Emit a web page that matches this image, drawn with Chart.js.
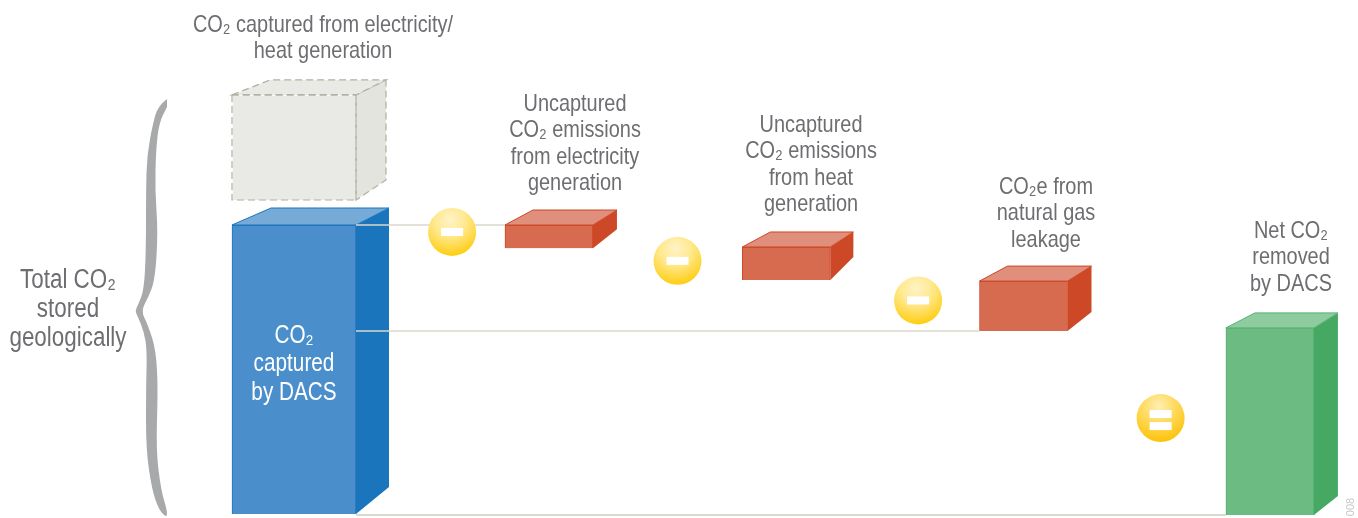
<!DOCTYPE html>
<html>
<head>
<meta charset="utf-8">
<title>Net CO₂ removed by DACS</title>
<script src="https://cdn.jsdelivr.net/npm/chart.js@4"></script>
<style>
  html, body { margin: 0; padding: 0; background: #fff; }
  canvas { display: block; }
</style>
</head>
<body>
<canvas id="dacsChart" width="1358" height="518"></canvas>
<script>
// Values as % of CO2 captured by DACS, each bar is [bottom, top]
const capturedDacs = [0, 100];
const capturedPowerHeat = [108.65, 145];
const lossElectricity = [92, 100];
const lossHeat = [81, 92.4];
const lossGasLeak = [63.3, 80.6];
const netRemoved = [-0.3, 64.4];

// Slot of each step along the horizontal axis
const slotDacs = 0;
const slotElectricity = 1.045;
const slotHeat = 2.018;
const slotLeak = 2.99;
const slotNet = 4;

// Operator badges between steps: [slot, value]
const minusBadges = [[0.648, 97.6], [1.572, 87.6], [2.558, 73.9]];
const equalBadges = [[3.552, 33.2]];

// Depth of the box drawn behind each bar
const boxDepth = {
  gray: { dx: 30, topUp: 15, baseUp: 20, leftDx: 38 },
  blue: { dx: 33, topUp: 17, baseUp: 27, leftDx: 39 },
  red1: { dx: 24, topUp: 15, baseUp: 19, leftDx: 28 },
  red2: { dx: 23, topUp: 15, baseUp: 23, leftDx: 28 },
  red3: { dx: 24, topUp: 15, baseUp: 19, leftDx: 28 },
  green: { dx: 24, topUp: 15, baseUp: 19, leftDx: 29 },
};

const palette = {
  gray: { front: "#e9eae5", side: "#e3e4dd", top: "#e9eae5", edge: "#b0b0a2" },
  blue: { front: "#4a8fcb", side: "#1b75bc", top: "#76abd8", edge: "#1b75bc" },
  red: { front: "#d76b50", side: "#cc4826", top: "#e08f7c", edge: "#cc4826" },
  green: { front: "#6bbb83", side: "#45a964", top: "#8ecb9f", edge: "#55b073" },
};

const TEXT_GRAY = "#6d6e71";
// no narrow face is installed, so lines get squeezed horizontally
const TEXT_SQUEEZE = 0.83;
const labels = [
  { x: 323, y: 25, size: 24, lines: ["CO₂ captured from electricity/"] },
  { x: 323, y: 51, size: 24, lines: ["heat generation"] },
  { x: 575, y: 104, size: 24, lines: ["Uncaptured", "CO₂ emissions", "from electricity", "generation"] },
  { x: 811, y: 125, size: 24, lines: ["Uncaptured", "CO₂ emissions", "from heat", "generation"] },
  { x: 1046, y: 187, size: 24, lines: ["CO₂e from", "natural gas", "leakage"] },
  { x: 1291, y: 231, size: 24, lines: ["Net CO₂", "removed", "by DACS"] },
  { x: 68, y: 281, size: 27, step: 29, lines: ["Total CO₂", "stored", "geologically"] },
  { x: 294, y: 336, size: 25, step: 28.5, color: "#ffffff", lines: ["CO₂", "captured", "by DACS"] },
];

// Outline of the curly brace, left edge going down then right edge coming back up
const braceOutline = [
  [167, 99], [158, 106], [153, 123], [147, 155], [146, 190], [146, 250], [144, 290], [138, 305], [135, 311],
  [138, 317], [144, 332], [147, 350], [146, 390], [146, 450], [152, 490], [159, 510], [167, 518],
  [167, 510], [161, 490], [156, 450], [158, 390], [156, 350], [148, 325], [141, 311],
  [148, 298], [155, 280], [158, 232], [155, 190], [156, 150], [159, 123], [167, 107],
];

function drawBox(ctx, el, depth, colors, dashed) {
  const left = el.x - el.width / 2;
  const right = el.x + el.width / 2;
  const top = el.y;
  const bottom = el.base;
  ctx.save();
  ctx.lineWidth = 1;
  ctx.strokeStyle = colors.edge;
  if (dashed) {
    ctx.setLineDash([7, 4]);
    ctx.lineWidth = 1.2;
  }

  // side face
  ctx.beginPath();
  ctx.moveTo(right, top);
  ctx.lineTo(right + depth.dx, top - depth.topUp);
  ctx.lineTo(right + depth.dx, bottom - depth.baseUp);
  ctx.lineTo(right, bottom);
  ctx.closePath();
  ctx.fillStyle = colors.side;
  ctx.fill();
  if (dashed) ctx.stroke();

  // top face
  ctx.beginPath();
  ctx.moveTo(left, top);
  ctx.lineTo(left + depth.leftDx, top - depth.topUp);
  ctx.lineTo(right + depth.dx, top - depth.topUp);
  ctx.lineTo(right, top);
  ctx.closePath();
  ctx.fillStyle = colors.top;
  ctx.fill();
  ctx.stroke();

  if (dashed) {
    ctx.strokeRect(left, top, el.width, bottom - top);
  }
  ctx.restore();
}

function drawBadge(ctx, cx, cy, bars) {
  const r = 24;
  ctx.save();
  const grad = ctx.createRadialGradient(cx - 2, cy - 12, 1, cx - 2, cy - 12, 38);
  if (bars === 1) {
    grad.addColorStop(0, "#fff2c4");
    grad.addColorStop(0.4, "#ffe98f");
    grad.addColorStop(0.75, "#ffd740");
    grad.addColorStop(1, "#ffca00");
  } else {
    grad.addColorStop(0, "#ffeeb0");
    grad.addColorStop(0.45, "#ffd95a");
    grad.addColorStop(1, "#fcc000");
  }
  ctx.fillStyle = grad;
  ctx.beginPath();
  ctx.arc(cx, cy, r, 0, Math.PI * 2);
  ctx.fill();
  ctx.fillStyle = "#ffffff";
  if (bars === 1) {
    ctx.fillRect(cx - 11, cy - 4, 22, 8);
  } else {
    ctx.fillRect(cx - 11, cy - 8, 22, 8);
    ctx.fillRect(cx - 11, cy + 4, 22, 8);
  }
  ctx.restore();
}

function drawBrace(ctx) {
  const pts = braceOutline;
  ctx.save();
  ctx.fillStyle = "#a7a9aa";
  ctx.beginPath();
  ctx.moveTo(pts[0][0], pts[0][1]);
  for (let i = 1; i < pts.length - 1; i++) {
    const mx = (pts[i][0] + pts[i + 1][0]) / 2;
    const my = (pts[i][1] + pts[i + 1][1]) / 2;
    ctx.quadraticCurveTo(pts[i][0], pts[i][1], mx, my);
  }
  ctx.lineTo(pts[pts.length - 1][0], pts[pts.length - 1][1]);
  ctx.closePath();
  ctx.fill();
  ctx.restore();
}

const infographicPlugin = {
  id: "infographic",
  afterDatasetsDraw(chart) {
    const ctx = chart.ctx;
    const xs = chart.scales.x;
    const ys = chart.scales.y;
    const wide = chart.getDatasetMeta(0).data;
    const narrow = chart.getDatasetMeta(1).data;

    drawBox(ctx, wide[1], boxDepth.gray, palette.gray, true);
    drawBox(ctx, wide[0], boxDepth.blue, palette.blue, false);
    drawBox(ctx, narrow[0], boxDepth.red1, palette.red, false);
    drawBox(ctx, narrow[1], boxDepth.red2, palette.red, false);
    drawBox(ctx, narrow[2], boxDepth.red3, palette.red, false);
    drawBox(ctx, narrow[3], boxDepth.green, palette.green, false);

    // connector lines from the blue bar to the steps
    const blueRight = wide[0].x + wide[0].width / 2;
    const connectors = [
      [ys.getPixelForValue(capturedDacs[1]), narrow[0].x - narrow[0].width / 2, 1.5],
      [ys.getPixelForValue(lossGasLeak[0]), narrow[2].x - narrow[2].width / 2, 1.5],
      [ys.getPixelForValue(netRemoved[0]), narrow[3].x - narrow[3].width / 2, 2],
    ];
    ctx.save();
    ctx.strokeStyle = "#d9d9cd";
    connectors.forEach(([y, endX, width]) => {
      ctx.lineWidth = width;
      ctx.beginPath();
      ctx.moveTo(blueRight, y);
      ctx.lineTo(endX, y);
      ctx.stroke();
    });
    ctx.restore();

    minusBadges.forEach(([s, v]) => drawBadge(ctx, xs.getPixelForValue(s), ys.getPixelForValue(v), 1));
    equalBadges.forEach(([s, v]) => drawBadge(ctx, xs.getPixelForValue(s), ys.getPixelForValue(v), 2));

    drawBrace(ctx);

    ctx.save();
    ctx.textAlign = "center";
    ctx.textBaseline = "middle";
    labels.forEach((lab) => {
      ctx.font = lab.size + 'px "Liberation Sans", sans-serif';
      ctx.fillStyle = lab.color || TEXT_GRAY;
      lab.lines.forEach((line, i) => {
        ctx.save();
        ctx.translate(lab.x, lab.y + i * (lab.step || 26.6));
        ctx.scale(TEXT_SQUEEZE, 1);
        ctx.fillText(line, 0, 0);
        ctx.restore();
      });
    });
    ctx.restore();

    // figure number up the right edge
    ctx.save();
    ctx.translate(1351, 507);
    ctx.rotate(-Math.PI / 2);
    ctx.font = '11px "Liberation Sans", sans-serif';
    ctx.textAlign = "center";
    ctx.textBaseline = "middle";
    ctx.fillStyle = "#c8c8c8";
    ctx.fillText("008", 0, 0);
    ctx.restore();
  },
};

const dacsChart = new Chart(document.getElementById("dacsChart").getContext("2d"), {
  type: "bar",
  data: {
    datasets: [
      {
        label: "Captured",
        data: [
          { x: slotDacs, y: capturedDacs },
          { x: slotDacs, y: capturedPowerHeat },
        ],
        backgroundColor: [palette.blue.front, palette.gray.front],
        borderColor: [palette.blue.edge, "rgba(0,0,0,0)"],
        borderWidth: 1,
        barThickness: 124,
        grouped: false,
      },
      {
        label: "Emissions and net removal",
        data: [
          { x: slotElectricity, y: lossElectricity },
          { x: slotHeat, y: lossHeat },
          { x: slotLeak, y: lossGasLeak },
          { x: slotNet, y: netRemoved },
        ],
        backgroundColor: [palette.red.front, palette.red.front, palette.red.front, palette.green.front],
        borderColor: [palette.red.edge, palette.red.edge, palette.red.edge, palette.green.edge],
        borderWidth: 1,
        barThickness: 88,
        grouped: false,
      },
    ],
  },
  options: {
    responsive: false,
    animation: false,
    layout: { padding: 0 },
    plugins: {
      legend: { display: false },
      tooltip: { enabled: false },
    },
    scales: {
      x: { type: "linear", display: false, min: -1.205, max: 4.361, offset: false },
      y: { display: false, min: -1.38, max: 177.86 },
    },
  },
  plugins: [infographicPlugin],
});
</script>
</body>
</html>
